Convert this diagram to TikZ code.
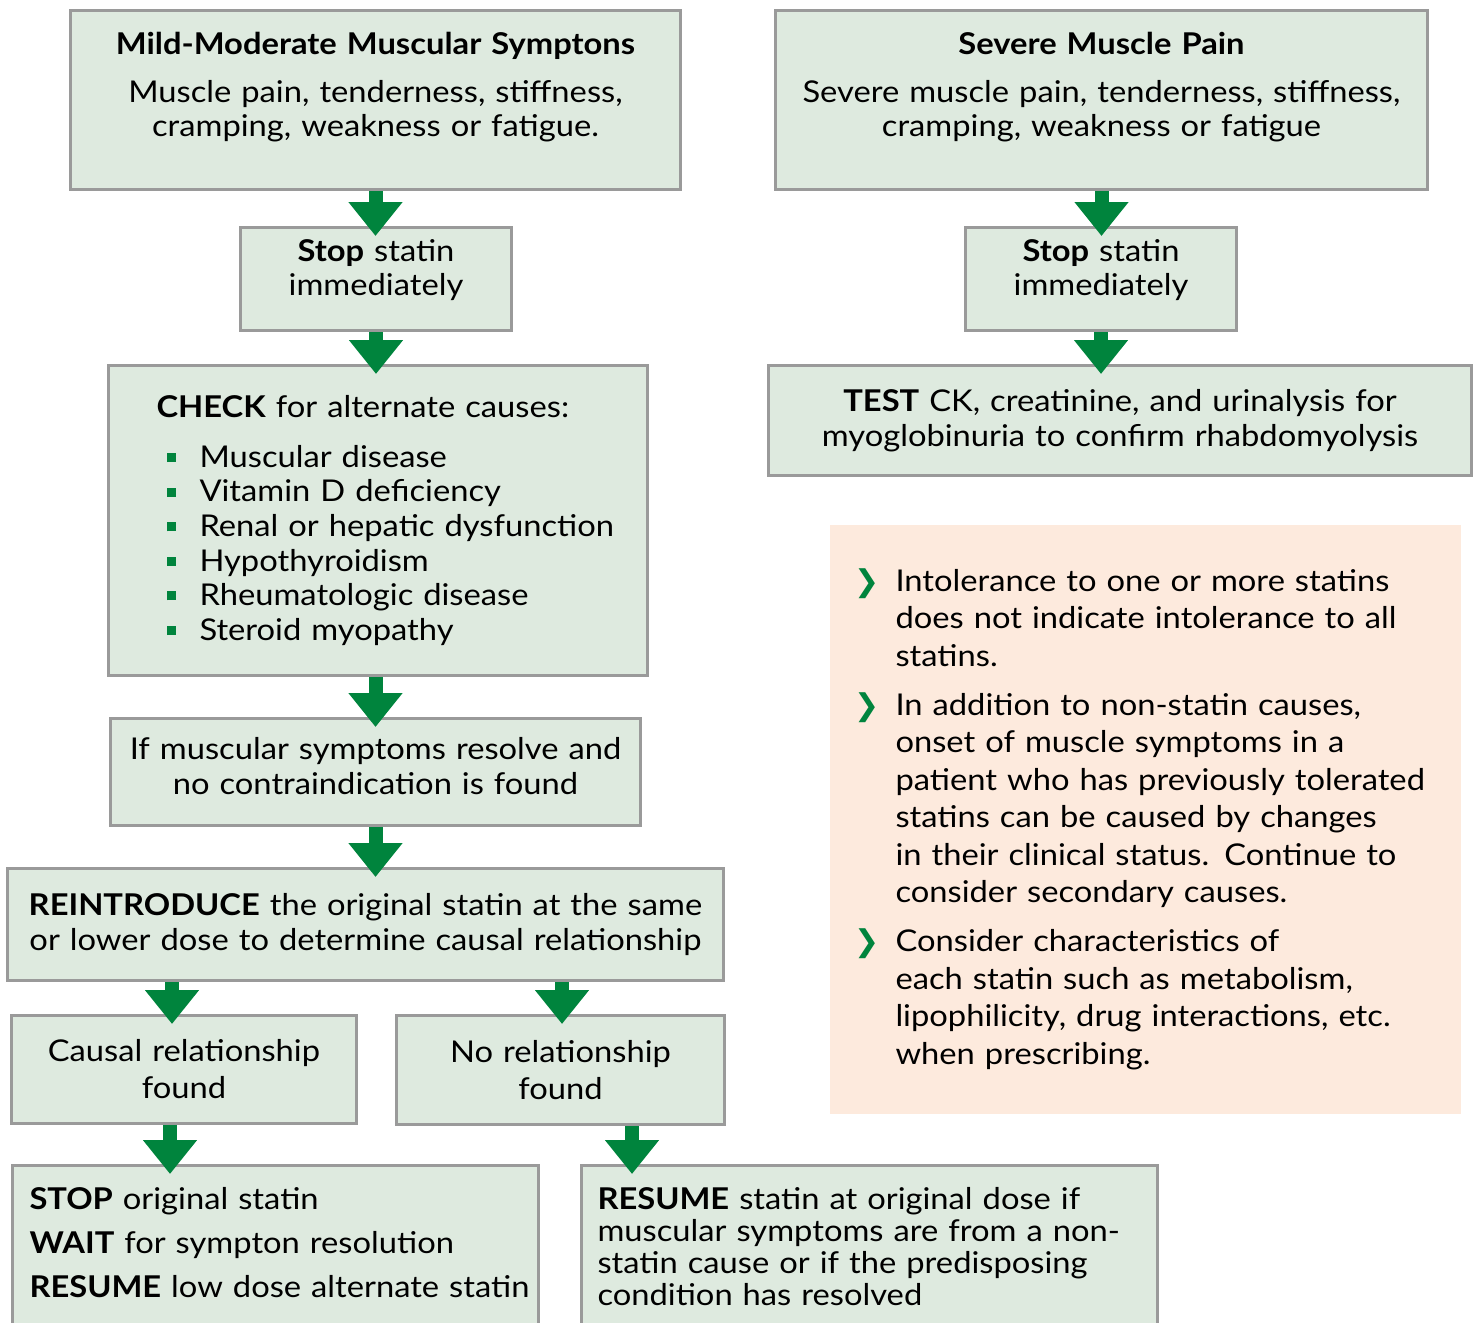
\documentclass[tikz,border=0pt]{standalone}
\usepackage{fontspec}
\setmainfont{Lato}[FakeStretch=1.09]
\newfontfamily\dejavu{DejaVu Sans}
\usetikzlibrary{arrows.meta}
\definecolor{boxgreen}{HTML}{DEEADF}
\definecolor{boxgray}{HTML}{9A9A9A}
\definecolor{notepeach}{HTML}{FDEADD}
\definecolor{arrowgreen}{HTML}{00843D}
\newcommand{\sq}{\hspace*{5pt}\textcolor{arrowgreen}{\rule[2.6pt]{4.5pt}{4.5pt}}\hspace*{12pt}}
\newcommand{\chev}{\leavevmode\llap{\textcolor{arrowgreen}{\dejavu\fontsize{15}{15}\selectfont ❯}\hspace{8pt}}}

\begin{document}
\begin{tikzpicture}[x=0.5pt, y=-0.5pt,
    box/.style={draw=boxgray, line width=1.5pt, fill=boxgreen, anchor=north west, inner xsep=0pt, inner ysep=0pt, align=center, font=\fontsize{15}{17.3}\selectfont},
    leftbox/.style={box, align=left},
    down/.style={draw=arrowgreen, line width=7pt, -{Triangle[width=26pt, length=17pt]}}]
    \useasboundingbox (0,0) rectangle (1476,1322);

    \node[box, text width=305pt, minimum height=89.5pt] (mild) at (69,9) {\textbf{Mild-Moderate Muscular Symptons}\\[6.5pt] Muscle pain, tenderness, stiffness,\\ cramping, weakness or fatigue.\\[-2pt]\mbox{}};
    \node[box, text width=326pt, minimum height=89.5pt] (severe) at (774,9) {\textbf{Severe Muscle Pain}\\[6.5pt] Severe muscle pain, tenderness, stiffness,\\ cramping, weakness or fatigue\\[-2pt]\mbox{}};
    \node[box, text width=135.5pt, minimum height=51.5pt] (stopL) at (239,226) {\textbf{Stop} statin\\ immediately\\[-6pt]\mbox{}};
    \node[box, text width=135.5pt, minimum height=51.5pt] (stopR) at (964,226) {\textbf{Stop} statin\\ immediately\\[-6pt]\mbox{}};
    \node[leftbox, text width=269.5pt, minimum height=155pt] (check) at (107,364) {\leftskip=24pt \textbf{CHECK} for alternate causes:\\[7.5pt]
        \sq Muscular disease\\
        \sq Vitamin D deficiency\\
        \sq Renal or hepatic dysfunction\\
        \sq Hypothyroidism\\
        \sq Rheumatologic disease\\
        \sq Steroid myopathy\par};
    \node[box, text width=351.5pt, minimum height=55pt] (test) at (767,364) {\textbf{TEST} CK, creatinine, and urinalysis for\\ myoglobinuria to confirm rhabdomyolysis};
    \node[box, text width=265pt, minimum height=53.5pt] (resolve) at (109,717) {If muscular symptoms resolve and\\ no contraindication is found\\[-11pt]\mbox{}};
    \node[box, text width=358pt, minimum height=56pt] (reintro) at (6,867) {\textbf{REINTRODUCE} the original statin at the same\\ or lower dose to determine causal relationship};
    \node[box, text width=172.5pt, minimum height=54pt, font=\fontsize{15}{18.5}\selectfont] (causal) at (10,1014) {Causal relationship\\ found};
    \node[box, text width=164pt, minimum height=54.5pt, font=\fontsize{15}{18.5}\selectfont] (norel) at (395,1014) {No relationship\\ found};
    \node[leftbox, text width=263pt, minimum height=90pt, font=\fontsize{15}{22}\selectfont] (stopalt) at (11,1164) {\leftskip=8.5pt \textbf{STOP} original statin\\ \textbf{WAIT} for sympton resolution\\ \textbf{RESUME} low dose alternate statin\\[-9pt]\mbox{}\par};
    \node[leftbox, text width=288pt, minimum height=90pt, font=\fontsize{15}{16}\selectfont] (resume) at (580,1164) {\leftskip=8pt \textbf{RESUME} statin at original dose if\\ muscular symptoms are from a non-\\ statin cause or if the predisposing\\ condition has resolved\\[-7pt]\mbox{}\par};
    \node[leftbox, draw=none, fill=notepeach, text width=315.5pt, minimum height=294.5pt, font=\fontsize{15}{18.75}\selectfont] (note) at (828,523) {\leftskip=33pt
        \chev Intolerance to one or more statins\\
        does not indicate intolerance to all\\
        statins.\\[5.75pt]
        \chev In addition to non-statin causes,\\
        onset of muscle symptoms in a\\
        patient who has previously tolerated\\
        statins can be caused by changes\\
        in their clinical status. Continue to\\
        consider secondary causes.\\[5.75pt]
        \chev Consider characteristics of\\
        each statin such as metabolism,\\
        lipophilicity, drug interactions, etc.\\
        when prescribing.\par};

    \coordinate (tip5) at ([xshift=81pt, yshift=-5pt]causal.north west);
    \coordinate (tip6) at ([xshift=83.5pt, yshift=-5pt]norel.north west);
    \coordinate (tip7) at ([xshift=79.5pt, yshift=-5pt]stopalt.north west);
    \coordinate (tip8) at ([xshift=26pt, yshift=-5pt]resume.north west);

    \draw[down] (mild.south) -- ([yshift=-5pt]mild.south |- stopL.north);
    \draw[down] (stopL.south) -- ([yshift=-5pt]stopL.south |- check.north);
    \draw[down] (severe.south) -- ([yshift=-5pt]severe.south |- stopR.north);
    \draw[down] (stopR.south) -- ([yshift=-5pt]stopR.south |- test.north);
    \draw[down] (check.south -| resolve) -- ([yshift=-5pt]resolve.north);
    \draw[down] (resolve.south) -- ([yshift=-5pt]resolve.south |- reintro.north);
    \draw[down] (reintro.south -| tip5) -- (tip5);
    \draw[down] (reintro.south -| tip6) -- (tip6);
    \draw[down] (causal.south -| tip7) -- (tip7);
    \draw[down] (norel.south -| tip8) -- (tip8);
\end{tikzpicture}
\end{document}
